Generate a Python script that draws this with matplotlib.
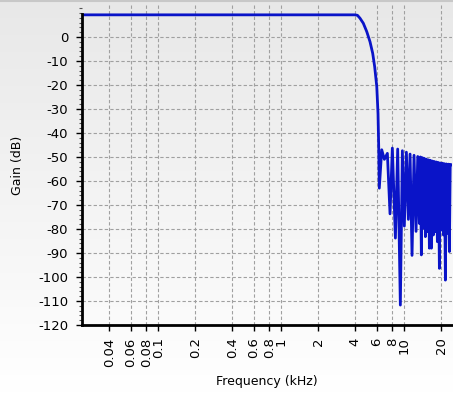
import numpy as np
import matplotlib
matplotlib.use('Agg')
import matplotlib.pyplot as plt
from matplotlib.ticker import FixedLocator, MultipleLocator, NullFormatter

# 频率 (kHz) 与增益 (dB)
freq_khz = [0.024, 0.1, 1.0, 3.0, 3.97, 4.16, 4.36, 4.64, 4.95, 5.26, 5.53, 5.74, 5.97,
            6.11, 6.19, 6.26, 6.55, 6.88, 7.28, 7.65, 7.99, 8.46, 8.83, 9.28, 9.64, 10.0,
            10.39, 10.78, 11.13, 11.55, 11.99, 12.45, 12.85, 13.25, 13.5, 13.75, 14.0,
            14.28, 14.55, 14.83, 15.1, 15.39, 15.7, 15.98, 16.3, 16.59, 16.9, 17.22,
            17.55, 17.88, 18.2, 18.56, 18.9, 19.27, 19.6, 20.0, 20.4, 20.77, 21.15,
            21.56, 21.95, 22.38, 22.8, 23.23, 23.6, 24.0]
gain_db = [9.2, 9.2, 9.2, 9.2, 9.2, 9.0, 7.8, 5.7, 2.2, -2.0, -6.8, -12.4, -20.7,
           -31.8, -45.7, -63.0, -47.0, -51.0, -48.5, -73.7, -46.3, -83.8, -46.7, -111.7, -47.4, -78.8,
           -48.0, -76.0, -48.8, -91.0, -49.3, -81.0, -49.8, -77.7, -50.0, -90.8, -50.3,
           -79.7, -50.6, -83.2, -50.9, -81.1, -51.2, -88.0, -51.4, -88.0, -51.7, -82.5,
           -51.9, -81.1, -52.1, -85.3, -52.3, -96.4, -52.5, -80.4, -52.6, -82.5, -52.8,
           -101.3, -52.9, -81.8, -53.0, -89.4, -53.1, -53.2]

x_ticks = [0.04, 0.06, 0.08, 0.1, 0.2, 0.4, 0.6, 0.8, 1, 2, 4, 6, 8, 10, 20]
x_labels = ['0.04', '0.06', '0.08', '0.1', '0.2', '0.4', '0.6', '0.8', '1', '2', '4', '6', '8', '10', '20']
y_ticks = list(range(0, -130, -10))

fig = plt.figure(figsize=(4.53, 3.93), dpi=100)

# 背景渐变
bg = fig.add_axes([0, 0, 1, 1], zorder=-10)
grad = np.linspace(0, 1, 256).reshape(-1, 1)
bg.imshow(grad, aspect='auto', cmap=matplotlib.colors.LinearSegmentedColormap.from_list(
    'g', ['#e8e8e8', '#ffffff']), extent=[0, 1, 0, 1], origin='upper')
bg.axis('off')
fig.add_artist(plt.Line2D([0, 1], [0.998, 0.998], transform=fig.transFigure, color='#c8c8c8', lw=1.5))

ax = fig.add_axes([82 / 453, 1 - 325 / 393, 370 / 453, 320 / 393])
ax.patch.set_alpha(0)
ax.plot(freq_khz, gain_db, color='#0a14c8', lw=2)
ax.set_xscale('log')
ax.set_xlim(0.024, 24.4)
ax.set_ylim(-120, 13.3)

ax.xaxis.set_major_locator(FixedLocator(x_ticks))
ax.xaxis.set_minor_locator(FixedLocator([]))
ax.set_xticklabels(x_labels, rotation=90, fontsize=9.5)
ax.xaxis.set_minor_formatter(NullFormatter())
ax.set_yticks(y_ticks)
ax.set_yticklabels([str(v) for v in y_ticks], fontsize=9.5)
ax.yaxis.set_minor_locator(MultipleLocator(2))
ax.tick_params(axis='y', which='major', length=4, width=1, pad=6)
ax.tick_params(axis='y', which='minor', length=2.5, width=0.8, color='#555555')
ax.tick_params(axis='x', which='major', length=4, width=1, pad=5)

ax.grid(True, which='major', color='#a0a0a0', linestyle=(0, (3, 2)), lw=0.8)
ax.set_axisbelow(True)
for s in ['top', 'right']:
    ax.spines[s].set_visible(False)
ax.spines['left'].set_linewidth(2)
ax.spines['bottom'].set_linewidth(2)
ax.spines['left'].set_bounds(-120, 9.5)

ax.set_xlabel('Frequency (kHz)', fontsize=9, labelpad=6)
ax.set_ylabel('Gain (dB)', fontsize=9, labelpad=10)

fig.savefig('out.png', dpi=100)
